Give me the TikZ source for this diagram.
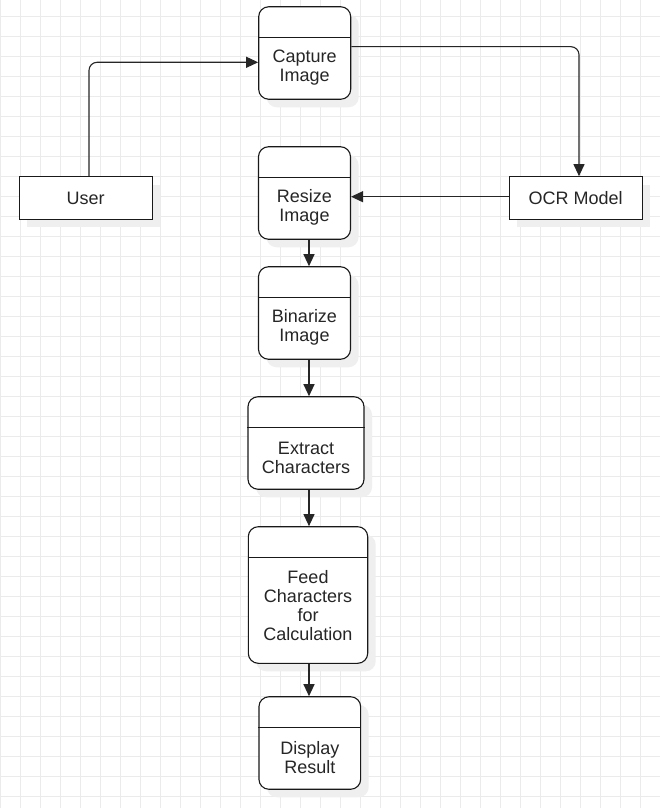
\documentclass[tikz,border=0pt]{standalone}
\usepackage{fontspec}
\setmainfont{Liberation Sans}
\usetikzlibrary{arrows.meta,shadows}
\definecolor{gridgray}{HTML}{EBEBEB}
\definecolor{shadowgray}{HTML}{EFEFEF}

\begin{document}
\begin{tikzpicture}[
  x=1pt,y=-1pt,
  procbox/.style={
    draw=black!90, line width=1.1pt, fill=white,
    rounded corners=10pt, inner sep=0pt,
    general shadow={fill=shadowgray, shadow xshift=8pt, shadow yshift=-8pt},
    },
  plainbox/.style={
    procbox, rounded corners=0pt,
    },
  proctext/.style={
    align=center, inner sep=0pt, text=black!85,
    font=\fontsize{18}{19}\selectfont,
    },
  flow/.style={
    draw=black!85, line width=1.1pt, rounded corners=8pt,
    -{Triangle[length=12pt,width=11pt]},
    },
  ]
  \useasboundingbox (0,0) rectangle (660,808);
  \fill[white] (0,0) rectangle (660,808);
  % background grid
  \foreach \gx in {0,20,...,660}
    \draw[gridgray, line width=0.7pt] (\gx,0) -- (\gx,808);
  \foreach \gy in {16.7,36.7,...,808}
    \draw[gridgray, line width=0.7pt] (0,\gy) -- (660,\gy);

  \coordinate (spine) at (309,0);

  \node[procbox, minimum width=92, minimum height=92.5] (capture) at (304.7,53) {};
  \node[procbox, minimum width=92, minimum height=92.5] (resize) at (304.5,193) {};
  \node[procbox, minimum width=92, minimum height=92.5] (binarize) at (304.5,313) {};
  \node[procbox, minimum width=116, minimum height=92.5] (extract) at (306,443) {};
  \node[procbox, minimum width=119.4, minimum height=136.6] (feed) at (308,595) {};
  \node[procbox, minimum width=101.7, minimum height=92.5] (display) at (309.8,743) {};

  \node[plainbox, minimum width=133.3, minimum height=42.6] (user) at (85.7,198) {};
  \node[plainbox, minimum width=133.3, minimum height=42.6] (ocr) at (575.7,198) {};

  % compartment lines
  \foreach \b in {capture,resize,binarize,extract,feed,display}
    \draw[black!90, line width=1.1pt]
      ([yshift=-31pt]\b.north west) -- ([yshift=-31pt]\b.north east);

  \node[proctext] (capture-txt) at ([yshift=-14.5pt]capture.center) {Capture\\Image};
  \node[proctext] (resize-txt) at ([yshift=-14.5pt]resize.center) {Resize\\Image};
  \node[proctext] (binarize-txt) at ([yshift=-14.5pt]binarize.center) {Binarize\\Image};
  \node[proctext] (extract-txt) at ([yshift=-14.5pt]extract.center) {Extract\\Characters};
  \node[proctext] (feed-txt) at ([yshift=-11pt]feed.center)
    {Feed\\Characters\\for\\Calculation};
  \node[proctext] (display-txt) at ([yshift=-14.5pt]display.center) {Display\\Result};
  \node[proctext] (user-txt) at ([yshift=-0.5pt]user.center) {User};
  \node[proctext] (ocr-txt) at ([yshift=-0.5pt]ocr.center) {OCR Model};

  \draw[flow]
    ([xshift=3.3pt]user.north) |- ([yshift=-9.3pt]capture.west);
  \draw[flow]
    ([yshift=6.3pt]capture.east) -| ([xshift=3.3pt]ocr.north);
  \draw[flow]
    ([yshift=1.3pt]ocr.west) -- ([yshift=-3.7pt]resize.east);
  \draw[flow] (resize.south -| spine) -- (binarize.north -| spine);
  \draw[flow] (binarize.south -| spine) -- (extract.north -| spine);
  \draw[flow] (extract.south -| spine) -- (feed.north -| spine);
  \draw[flow] (feed.south -| spine) -- (display.north -| spine);
\end{tikzpicture}
\end{document}
